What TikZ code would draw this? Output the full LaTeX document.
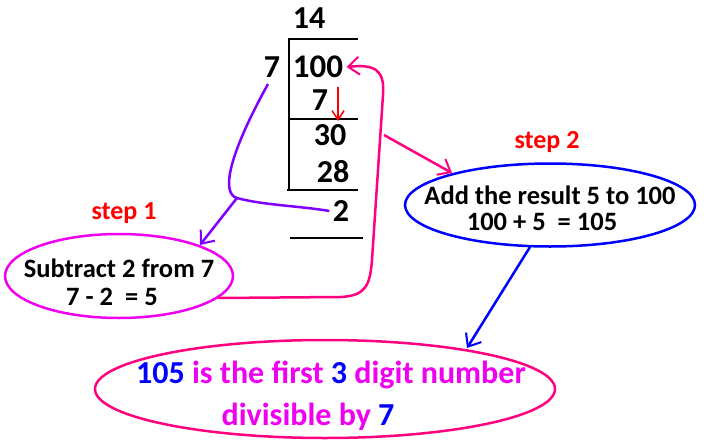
\documentclass[tikz,border=0pt]{standalone}
\usepackage{fontspec}
\setmainfont{Carlito}
\usetikzlibrary{arrows.meta,shapes.geometric}
\definecolor{dpink}{RGB}{255,0,128}
\definecolor{mgn}{RGB}{240,0,240}
\definecolor{prp}{RGB}{128,0,255}
\definecolor{blu}{RGB}{0,0,255}
\tikzset{
  big/.style={font=\fontsize{32}{34}\selectfont\bfseries},
  txt/.style={font=\fontsize{26.5}{28}\selectfont\bfseries, inner sep=0pt},
  steplabel/.style={font=\fontsize{26}{28}\selectfont\bfseries, text=red},
  oval/.style={ellipse, draw, line width=2.5pt, inner sep=0pt},
  bar/.style={line width=2.5pt},
  link/.style={line width=2.5pt, -{Straight Barb[length=11pt,width=18pt,line width=2pt]}}
}
\begin{document}
\begin{tikzpicture}[x=1pt,y=-1pt]
  \useasboundingbox (0,0) rectangle (709,447);
  % long division
  \draw
    (309,18) node[big] (q){14}
    (272,67) node[big] (d){7}
    (318,67) node[big, font=\fontsize{33}{35}\selectfont\bfseries] (n){100}
    (320,100) node[big] (s1){7}
    (330,135) node[big] (m){30}
    (333,172) node[big] (s2){28}
    (341,211) node[big] (r){2};
  \draw[bar] (358,39) -- (289,39) -- (289,190);
  \draw[bar] (289,119) -- (358,119);
  \draw[bar] (287,190) -- (358,190);
  \draw[bar] (290,238) -- (363,238);
  \draw[red, line width=2pt, -{Straight Barb[length=9pt,width=12pt,line width=1.5pt]}] (338,87) -- (338,121);
  % ovals
  \node[oval, draw=mgn, minimum width=228pt, minimum height=84pt] (e1) at (119,276) {};
  \node[txt] (t1a) at (119,268) {Subtract 2 from 7};
  \node[txt] (t1b) at (112,297) {7 - 2\ \ = 5};
  \node[steplabel] (l1) at (124,213) {step 1};
  \node[oval, draw=blu, minimum width=290pt, minimum height=83pt] (e2) at (550,205) {};
  \node[txt] (t2a) at (550,195) {Add the result 5 to 100};
  \node[txt] (t2b) at (542,222) {100 + 5\ \ = 105};
  \node[steplabel] (l2) at (547,142) {step 2};
  \node[oval, draw=dpink, minimum width=460pt, minimum height=98pt] (e3) at (325,389) {};
  \node[txt, font=\fontsize{32}{34}\selectfont\bfseries, text=mgn] (t3a) at (331,375)
    {\textcolor{blu}{105} is the first \textcolor{blu}{3} digit number};
  \node[txt, font=\fontsize{32}{34}\selectfont\bfseries, text=mgn] (t3b) at (308,417)
    {divisible by \textcolor{blu}{7}};
  % connectors
  \coordinate (pb) at (237,198);
  \coordinate (pk) at (384,135);
  \draw[prp, line width=2.5pt] (268,84) .. controls (226,160) and (222,194) .. (pb)
    .. controls (262,205) and (300,206) .. (r.west);
  \draw[prp, link] (pb) -- (200,245);
  \draw[dpink, link] (218,298) -- (340,297) .. controls (366,296) and (370,285) .. (372,260)
    -- (383,95) .. controls (385,70) and (375,64) .. (n.east);
  \draw[dpink, link] (pk) -- (452,173);
  \draw[blu, link] (530,247) -- (467,348);
\end{tikzpicture}
\end{document}
